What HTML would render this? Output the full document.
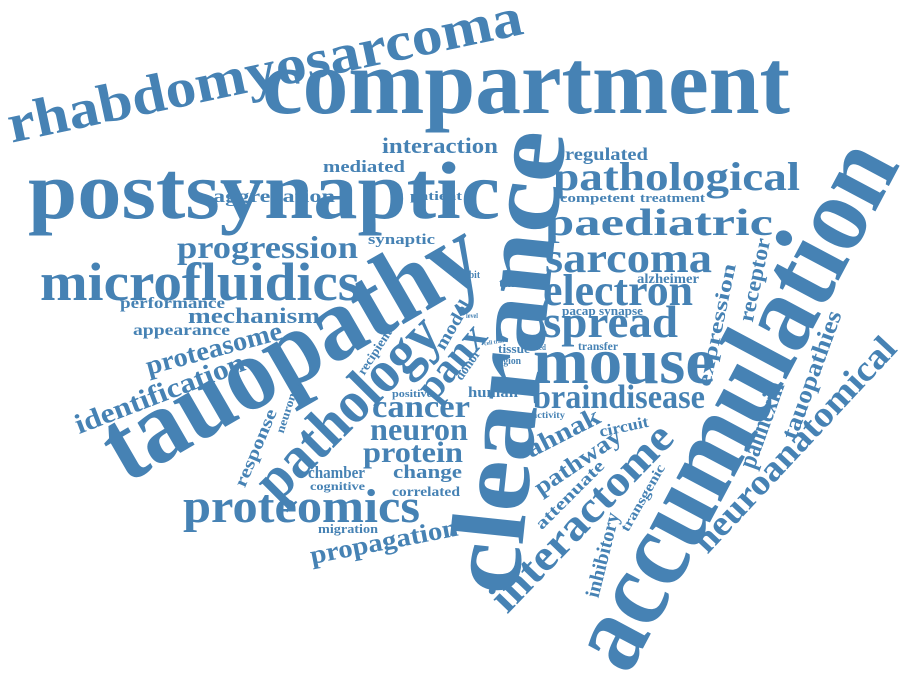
<!DOCTYPE html>
<html><head><meta charset="utf-8"><style>
html,body{margin:0;padding:0;background:#fff;}
svg{display:block;}
text{font-family:"Liberation Serif",serif;font-weight:bold;fill:#4682B4;}
.c{text-anchor:middle;}
</style></head><body>
<svg width="900" height="674" viewBox="0 0 900 674" xmlns="http://www.w3.org/2000/svg">
<text x="262" y="113" font-size="92" textLength="528" lengthAdjust="spacingAndGlyphs">compartment</text>
<text x="28" y="218" font-size="82" textLength="472" lengthAdjust="spacingAndGlyphs">postsynaptic</text>
<text x="553" y="190" font-size="40" textLength="247" lengthAdjust="spacingAndGlyphs">pathological</text>
<text x="382" y="153" font-size="22" textLength="116" lengthAdjust="spacingAndGlyphs">interaction</text>
<text x="323" y="172" font-size="17" textLength="82" lengthAdjust="spacingAndGlyphs">mediated</text>
<text x="565" y="160" font-size="18" textLength="83" lengthAdjust="spacingAndGlyphs">regulated</text>
<text x="560" y="202" font-size="13" textLength="75" lengthAdjust="spacingAndGlyphs">competent</text>
<text x="640" y="202" font-size="13" textLength="65" lengthAdjust="spacingAndGlyphs">treatment</text>
<text x="545" y="235" font-size="38" textLength="228" lengthAdjust="spacingAndGlyphs">paediatric</text>
<text x="213" y="202" font-size="18" textLength="122" lengthAdjust="spacingAndGlyphs">aggregation</text>
<text x="410" y="200" font-size="13" textLength="52" lengthAdjust="spacingAndGlyphs">patient</text>
<text x="368" y="244" font-size="15" textLength="67" lengthAdjust="spacingAndGlyphs">synaptic</text>
<text x="177" y="258" font-size="32" textLength="181" lengthAdjust="spacingAndGlyphs">progression</text>
<text x="545" y="272" font-size="42" textLength="167" lengthAdjust="spacingAndGlyphs">sarcoma</text>
<text x="40" y="300" font-size="54" textLength="320" lengthAdjust="spacingAndGlyphs">microfluidics</text>
<text x="453" y="278" font-size="10" textLength="27" lengthAdjust="spacingAndGlyphs">inhibit</text>
<text x="499" y="287" font-size="13" textLength="36" lengthAdjust="spacingAndGlyphs">tumor</text>
<text x="637" y="283" font-size="14" textLength="62" lengthAdjust="spacingAndGlyphs">alzheimer</text>
<text x="543" y="305" font-size="44" textLength="150" lengthAdjust="spacingAndGlyphs">electron</text>
<text x="120" y="308" font-size="16" textLength="105" lengthAdjust="spacingAndGlyphs">performance</text>
<text x="188" y="323" font-size="22" textLength="132" lengthAdjust="spacingAndGlyphs">mechanism</text>
<text x="466" y="318" font-size="7" textLength="12" lengthAdjust="spacingAndGlyphs">level</text>
<text x="562" y="315" font-size="13" textLength="81" lengthAdjust="spacingAndGlyphs">pacap synapse</text>
<text x="543" y="337" font-size="46" textLength="135" lengthAdjust="spacingAndGlyphs">spread</text>
<text x="133" y="335" font-size="16" textLength="97" lengthAdjust="spacingAndGlyphs">appearance</text>
<text x="578" y="350" font-size="12" textLength="40" lengthAdjust="spacingAndGlyphs">transfer</text>
<text x="498" y="353" font-size="13" textLength="32" lengthAdjust="spacingAndGlyphs">tissue</text>
<text x="533" y="350" font-size="8" textLength="13" lengthAdjust="spacingAndGlyphs">seed</text>
<text x="495" y="364" font-size="11" textLength="26" lengthAdjust="spacingAndGlyphs">region</text>
<text x="533" y="383" font-size="66" textLength="182" lengthAdjust="spacingAndGlyphs">mouse</text>
<text x="468" y="397" font-size="15" textLength="50" lengthAdjust="spacingAndGlyphs">human</text>
<text x="392" y="397" font-size="11" textLength="40" lengthAdjust="spacingAndGlyphs">positive</text>
<text x="533" y="408" font-size="34" textLength="172" lengthAdjust="spacingAndGlyphs">braindisease</text>
<text x="532" y="418" font-size="9" textLength="33" lengthAdjust="spacingAndGlyphs">activity</text>
<text x="372" y="417" font-size="32" textLength="98" lengthAdjust="spacingAndGlyphs">cancer</text>
<text x="370" y="440" font-size="32" textLength="98" lengthAdjust="spacingAndGlyphs">neuron</text>
<text x="363" y="462" font-size="30" textLength="100" lengthAdjust="spacingAndGlyphs">protein</text>
<text x="308" y="478" font-size="17" textLength="57" lengthAdjust="spacingAndGlyphs">chamber</text>
<text x="393" y="478" font-size="19" textLength="69" lengthAdjust="spacingAndGlyphs">change</text>
<text x="310" y="490" font-size="12" textLength="55" lengthAdjust="spacingAndGlyphs">cognitive</text>
<text x="392" y="496" font-size="14" textLength="68" lengthAdjust="spacingAndGlyphs">correlated</text>
<text x="183" y="522" font-size="48" textLength="237" lengthAdjust="spacingAndGlyphs">proteomics</text>
<text x="318" y="533" font-size="13" textLength="60" lengthAdjust="spacingAndGlyphs">migration</text>
<text class="c" transform="translate(384,542) rotate(-11)" dy="0.3em" font-size="26" textLength="150" lengthAdjust="spacingAndGlyphs">propagation</text>
<text class="c" transform="translate(214,349) rotate(-15)" dy="0.3em" font-size="27" textLength="140" lengthAdjust="spacingAndGlyphs">proteasome</text>
<text class="c" transform="translate(265,72) rotate(-12)" dy="0.3em" font-size="55" textLength="525" lengthAdjust="spacingAndGlyphs">rhabdomyosarcoma</text>
<text class="c" transform="translate(292,352) rotate(-30)" dy="0.3em" font-size="105" textLength="420" lengthAdjust="spacingAndGlyphs">tauopathy</text>
<text class="c" transform="translate(510,362) rotate(-84)" dy="0.3em" font-size="105" textLength="465" lengthAdjust="spacingAndGlyphs">clearance</text>
<text class="c" transform="translate(735,405) rotate(-62)" dy="0.3em" font-size="110" textLength="580" lengthAdjust="spacingAndGlyphs">accumulation</text>
<text class="c" transform="translate(348,408) rotate(-45)" dy="0.3em" font-size="60" textLength="235" lengthAdjust="spacingAndGlyphs">pathology</text>
<text class="c" transform="translate(452,362) rotate(-50)" dy="0.3em" font-size="42" textLength="85" lengthAdjust="spacingAndGlyphs">panx</text>
<text class="c" transform="translate(453,325) rotate(-60)" dy="0.3em" font-size="18" textLength="54" lengthAdjust="spacingAndGlyphs">model</text>
<text class="c" transform="translate(375,352) rotate(-57)" dy="0.3em" font-size="13" textLength="52" lengthAdjust="spacingAndGlyphs">recipient</text>
<text class="c" transform="translate(468,365) rotate(-55)" dy="0.3em" font-size="13" textLength="34" lengthAdjust="spacingAndGlyphs">donor</text>
<text class="c" transform="translate(494,342) rotate(-10)" dy="0.3em" font-size="6" textLength="20" lengthAdjust="spacingAndGlyphs">cell tran</text>
<text class="c" transform="translate(256,448) rotate(-67)" dy="0.3em" font-size="18" textLength="83" lengthAdjust="spacingAndGlyphs">response</text>
<text class="c" transform="translate(288,408) rotate(-72)" dy="0.3em" font-size="12" textLength="52" lengthAdjust="spacingAndGlyphs">neuronal</text>
<text class="c" transform="translate(160,394) rotate(-21)" dy="0.3em" font-size="28" textLength="180" lengthAdjust="spacingAndGlyphs">identification</text>
<text class="c" transform="translate(624,427) rotate(-12)" dy="0.3em" font-size="16" textLength="50" lengthAdjust="spacingAndGlyphs">circuit</text>
<text class="c" transform="translate(563,433) rotate(-27)" dy="0.3em" font-size="26" textLength="80" lengthAdjust="spacingAndGlyphs">ahnak</text>
<text class="c" transform="translate(578,462) rotate(-34)" dy="0.3em" font-size="24" textLength="100" lengthAdjust="spacingAndGlyphs">pathway</text>
<text class="c" transform="translate(570,495) rotate(-45)" dy="0.3em" font-size="17" textLength="90" lengthAdjust="spacingAndGlyphs">attenuate</text>
<text class="c" transform="translate(582,518) rotate(-46)" dy="0.3em" font-size="44" textLength="243" lengthAdjust="spacingAndGlyphs">interactome</text>
<text class="c" transform="translate(603,555) rotate(-76)" dy="0.3em" font-size="20" textLength="87" lengthAdjust="spacingAndGlyphs">inhibitory</text>
<text class="c" transform="translate(643,498) rotate(-60)" dy="0.3em" font-size="14" textLength="75" lengthAdjust="spacingAndGlyphs">transgenic</text>
<text class="c" transform="translate(795,445) rotate(-47)" dy="0.3em" font-size="36" textLength="280" lengthAdjust="spacingAndGlyphs">neuroanatomical</text>
<text class="c" transform="translate(762,425) rotate(-70)" dy="0.3em" font-size="26" textLength="90" lengthAdjust="spacingAndGlyphs">pannexin</text>
<text class="c" transform="translate(812,375) rotate(-70)" dy="0.3em" font-size="24" textLength="135" lengthAdjust="spacingAndGlyphs">tauopathies</text>
<text class="c" transform="translate(755,280) rotate(-78)" dy="0.3em" font-size="22" textLength="85" lengthAdjust="spacingAndGlyphs">receptor</text>
<text class="c" transform="translate(717,325) rotate(-78)" dy="0.3em" font-size="20" textLength="125" lengthAdjust="spacingAndGlyphs">expression</text>
</svg>
</body></html>
